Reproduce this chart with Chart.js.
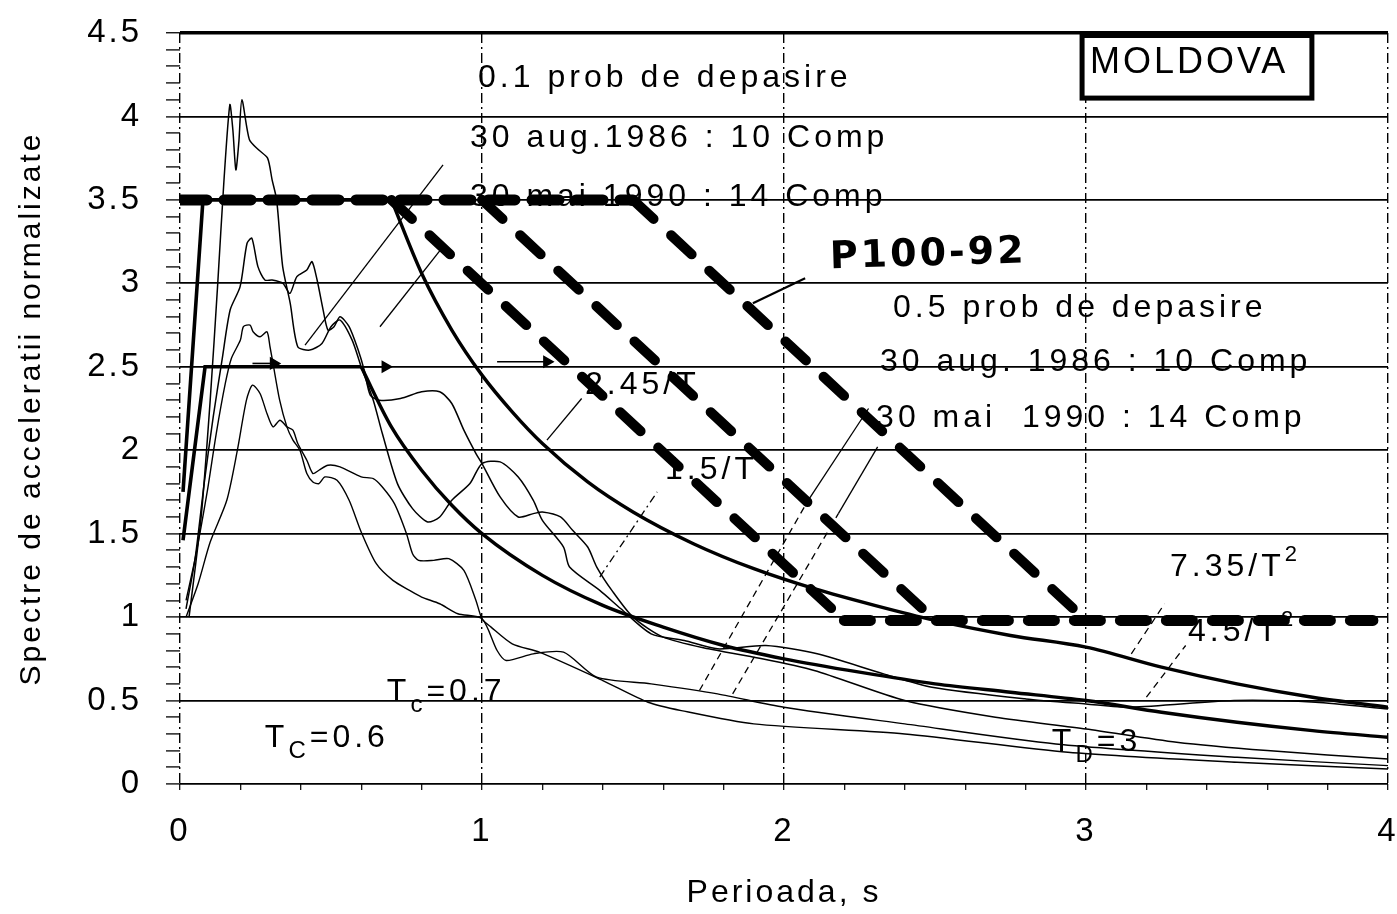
<!DOCTYPE html>
<html>
<head>
<meta charset="utf-8">
<title>Spectre de acceleratii normalizate - Moldova</title>
<script src="https://cdn.jsdelivr.net/npm/chart.js@4.4.1/dist/chart.umd.min.js"></script>
<style>
  html, body { margin: 0; padding: 0; background: #fff; }
  #chart { display: block; }
</style>
</head>
<body>
<canvas id="chart" width="1397" height="914"></canvas>
<script>
// P100-92 code spectra (thick dashed): plateau 3.5, linear drop, floor 1.0
const codeTopT = [0, 1.5];
const codeTopV = [3.5, 3.5];
const codeDrop1T = [0.7, 2.2];
const codeDrop1V = [3.5, 0.98];
const codeDrop2T = [1.0, 2.5];
const codeDrop2V = [3.5, 0.98];
const codeDrop3T = [1.5, 3.0];
const codeDrop3V = [3.5, 0.98];
const codeFloorT = [2.2, 3.95];
const codeFloorV = [0.98, 0.98];

// proposed spectrum Tc=0.7 (3.5, 2.45/T, 7.35/T^2)
const rise1T = [0.01, 0.076, 0.7];
const rise1V = [1.75, 3.5, 3.5];
const decay1T = [0.7, 0.8, 0.9, 1.0, 1.1, 1.2, 1.35, 1.5, 1.7, 1.9, 2.1, 2.3, 2.5, 2.75, 3.0, 3.25, 3.5, 3.75, 4.0];
const decay1V = [3.5, 3.06, 2.72, 2.45, 2.23, 2.04, 1.81, 1.63, 1.44, 1.29, 1.17, 1.07, 0.98, 0.89, 0.82, 0.70, 0.60, 0.52, 0.46];

// proposed spectrum Tc=0.6 (2.5, 1.5/T, 4.5/T^2)
const rise2T = [0.01, 0.083, 0.6];
const rise2V = [1.46, 2.5, 2.5];
const decay2T = [0.6, 0.7, 0.8, 0.9, 1.0, 1.2, 1.4, 1.6, 1.8, 2.0, 2.25, 2.5, 2.75, 3.0, 3.25, 3.5, 3.75, 4.0];
const decay2V = [2.5, 2.14, 1.88, 1.67, 1.5, 1.25, 1.07, 0.94, 0.83, 0.75, 0.67, 0.6, 0.55, 0.5, 0.43, 0.37, 0.32, 0.28];

// recorded spectra, 0.1 probability (30 aug 1986 / 30 mai 1990)
const rec1T = [0.03, 0.07, 0.10, 0.125, 0.145, 0.165, 0.175, 0.185, 0.195, 0.205, 0.23, 0.26, 0.29, 0.305, 0.32, 0.34, 0.365, 0.39, 0.43, 0.47, 0.50, 0.53, 0.57, 0.60, 0.64, 0.67, 0.72, 0.77, 0.82, 0.86, 0.90, 0.96, 1.00, 1.06, 1.12, 1.17, 1.20, 1.27, 1.29, 1.39, 1.46, 1.56, 1.67, 1.78, 1.94, 2.11, 2.33, 2.49, 2.80, 3.00, 3.15, 3.49, 3.76, 4.00];
const rec1V = [1.00, 1.60, 2.30, 3.00, 3.60, 4.07, 3.92, 3.68, 3.85, 4.10, 3.86, 3.80, 3.75, 3.62, 3.50, 3.10, 2.88, 2.62, 2.60, 2.64, 2.74, 2.78, 2.66, 2.50, 2.30, 2.10, 1.80, 1.65, 1.57, 1.60, 1.70, 1.80, 1.92, 1.93, 1.84, 1.70, 1.58, 1.42, 1.30, 1.16, 1.05, 0.90, 0.86, 0.81, 0.83, 0.78, 0.66, 0.58, 0.51, 0.48, 0.46, 0.50, 0.49, 0.45];
const rec2T = [0.02, 0.05, 0.08, 0.11, 0.14, 0.166, 0.199, 0.222, 0.238, 0.258, 0.281, 0.305, 0.341, 0.364, 0.387, 0.42, 0.437, 0.454, 0.474, 0.49, 0.51, 0.53, 0.56, 0.59, 0.61, 0.63, 0.66, 0.73, 0.80, 0.86, 0.90, 0.94, 0.98, 1.00, 1.06, 1.12, 1.17, 1.20, 1.26, 1.30, 1.35, 1.38, 1.43, 1.50, 1.60, 1.75, 1.90, 2.10, 2.40, 2.70, 3.00, 3.30, 3.60, 4.00];
const rec2V = [1.05, 1.35, 1.80, 2.20, 2.55, 2.84, 2.98, 3.24, 3.27, 3.10, 3.02, 3.02, 3.00, 2.94, 3.04, 3.08, 3.13, 3.02, 2.84, 2.72, 2.74, 2.80, 2.74, 2.60, 2.48, 2.33, 2.30, 2.31, 2.35, 2.35, 2.28, 2.12, 1.98, 1.92, 1.72, 1.60, 1.62, 1.63, 1.60, 1.52, 1.42, 1.30, 1.16, 1.00, 0.88, 0.81, 0.76, 0.68, 0.50, 0.40, 0.33, 0.25, 0.20, 0.15];

// recorded spectra, 0.5 probability
const rec3T = [0.02, 0.05, 0.09, 0.12, 0.15, 0.17, 0.20, 0.21, 0.232, 0.242, 0.265, 0.288, 0.298, 0.308, 0.33, 0.354, 0.374, 0.397, 0.42, 0.44, 0.46, 0.48, 0.52, 0.56, 0.60, 0.65, 0.705, 0.76, 0.80, 0.86, 0.92, 1.00, 1.05, 1.08, 1.17, 1.27, 1.38, 1.56, 1.78, 2.00, 2.40, 2.90, 3.50, 4.00];
const rec3V = [1.10, 1.35, 1.75, 2.10, 2.40, 2.55, 2.66, 2.74, 2.75, 2.71, 2.68, 2.71, 2.62, 2.52, 2.30, 2.14, 2.06, 2.00, 1.86, 1.81, 1.80, 1.84, 1.82, 1.70, 1.51, 1.32, 1.22, 1.16, 1.12, 1.08, 1.02, 0.99, 0.80, 0.74, 0.78, 0.79, 0.64, 0.60, 0.54, 0.46, 0.36, 0.24, 0.16, 0.11];
const rec4T = [0.02, 0.06, 0.10, 0.155, 0.19, 0.22, 0.24, 0.265, 0.288, 0.308, 0.331, 0.354, 0.374, 0.39, 0.42, 0.44, 0.46, 0.49, 0.53, 0.60, 0.64, 0.67, 0.71, 0.75, 0.77, 0.79, 0.84, 0.89, 0.94, 0.98, 1.00, 1.03, 1.10, 1.19, 1.40, 1.55, 1.66, 1.90, 2.40, 2.94, 3.50, 4.00];
const rec4V = [1.00, 1.20, 1.45, 1.70, 2.00, 2.30, 2.39, 2.34, 2.22, 2.14, 2.18, 2.14, 2.12, 2.04, 1.94, 1.86, 1.88, 1.91, 1.90, 1.84, 1.83, 1.78, 1.68, 1.50, 1.38, 1.34, 1.34, 1.35, 1.28, 1.10, 0.99, 0.94, 0.84, 0.79, 0.62, 0.49, 0.44, 0.36, 0.30, 0.19, 0.13, 0.09];

// leader lines from the labels
const leaders = [
  {t: [0.414, 0.871], v: [2.63, 3.71], dash: []},
  {t: [0.662, 0.871], v: [2.74, 3.22], dash: []},
  {t: [1.215, 1.33], v: [2.06, 2.31], dash: []},
  {t: [1.39, 1.58], v: [1.24, 1.75], dash: [8, 4, 2, 4]},
  {t: [2.08, 2.28], v: [1.70, 2.25], dash: []},
  {t: [1.72, 2.08], v: [0.56, 1.70], dash: [7, 5]},
  {t: [2.18, 2.31], v: [1.62, 2.02], dash: []},
  {t: [1.83, 2.18], v: [0.54, 1.62], dash: [7, 5]},
  {t: [3.15, 3.26], v: [0.78, 1.08], dash: [7, 5]},
  {t: [3.20, 3.33], v: [0.52, 0.83], dash: [7, 5]},
  {t: [1.897, 2.07], v: [2.88, 3.03], dash: [], width: 2.2}
];
// arrows along the 2.5 level
const arrows = [
  {t: [0.6, 0.68], v: [2.5, 2.5]},
  {t: [1.05, 1.215], v: [2.53, 2.53]},
  {t: [0.24, 0.31], v: [2.52, 2.52]}
];

const fam = '"Liberation Sans", Arial, Helvetica, sans-serif';
Chart.defaults.font.family = fam;
Chart.defaults.color = '#000';

function pts(t, v) {
  return t.map((x, i) => ({x: x, y: v[i]}));
}

function line(t, v, width, dash, more) {
  return Object.assign({
    data: pts(t, v),
    borderColor: '#000',
    borderWidth: width,
    borderDash: dash,
    pointRadius: 0,
    tension: 0,
    fill: false
  }, more || {});
}

const thickDash = {borderCapStyle: 'round', borderJoinStyle: 'round'};
const datasets = [
  line(codeTopT, codeTopV, 11, [27, 17], thickDash),
  line(codeDrop1T, codeDrop1V, 10, [28, 24], thickDash),
  line(codeDrop2T, codeDrop2V, 10, [28, 24], thickDash),
  line(codeDrop3T, codeDrop3V, 10, [28, 24], thickDash),
  line(codeFloorT, codeFloorV, 11, [26, 20], thickDash),
  line(rise1T, rise1V, 3.6, []),
  line(decay1T, decay1V, 3.4, [], {cubicInterpolationMode: 'monotone'}),
  line(rise2T, rise2V, 3.6, []),
  line(decay2T, decay2V, 3.4, [], {cubicInterpolationMode: 'monotone'}),
  line(rec1T, rec1V, 1.5, [], {tension: 0.25}),
  line(rec2T, rec2V, 1.5, [], {tension: 0.25}),
  line(rec3T, rec3V, 1.4, [], {tension: 0.25}),
  line(rec4T, rec4V, 1.4, [], {tension: 0.25})
];
leaders.forEach(l => datasets.push(line(l.t, l.v, l.width || 1.3, l.dash)));
arrows.forEach(a => datasets.push(line(a.t, a.v, 1.6, [], {
  pointRadius: [0, 6], pointStyle: 'triangle', pointRotation: 90,
  pointBackgroundColor: '#000', pointBorderColor: '#000'
})));

function onHalf(v) {
  return Math.abs(v * 2 - Math.round(v * 2)) < 1e-6;
}
function onWhole(v) {
  return Math.abs(v - Math.round(v)) < 1e-6;
}

// white page + wider letter spacing for all canvas text
const paper = {
  id: 'paper',
  beforeDraw(chart) {
    const ctx = chart.ctx;
    ctx.letterSpacing = '3px';
    ctx.save();
    ctx.fillStyle = '#fff';
    ctx.fillRect(0, 0, chart.width, chart.height);
    ctx.restore();
  }
};

// text notes on the plot, positioned in axis units
const noteList = [
  {t: 0.987, v: 4.228, parts: [['0.1 prob de depasire']]},
  {t: 0.960, v: 3.868, parts: [['30 aug.1986 : 10 Comp']]},
  {t: 0.960, v: 3.515, parts: [['30 mai 1990 : 14 Comp']]},
  {t: 2.361, v: 2.850, parts: [['0.5 prob de depasire']]},
  {t: 2.318, v: 2.527, parts: [['30 aug. 1986 : 10 Comp']]},
  {t: 2.305, v: 2.192, parts: [['30 mai  1990 : 14 Comp']]},
  {t: 1.341, v: 2.389, parts: [['2.45/T']]},
  {t: 1.606, v: 1.880, parts: [['1.5/T']]},
  {t: 3.278, v: 1.299, parts: [['7.35/T'], ['2', 'sup']]},
  {t: 3.338, v: 0.910, parts: [['4.5/T'], ['2', 'sup']]},
  {t: 0.685, v: 0.551, parts: [['T'], ['c', 'sub'], ['=0.7']]},
  {t: 0.281, v: 0.275, parts: [['T'], ['C', 'sub'], ['=0.6']]},
  {t: 2.887, v: 0.251, parts: [['T'], ['D', 'sub'], ['=3']]}
];

const notes = {
  id: 'notes',
  afterDatasetsDraw(chart) {
    const {ctx, scales: {x, y}} = chart;
    ctx.save();
    ctx.fillStyle = '#000';
    ctx.textBaseline = 'middle';
    ctx.textAlign = 'left';
    ctx.letterSpacing = '4px';
    noteList.forEach(n => {
      let px = x.getPixelForValue(n.t);
      const py = y.getPixelForValue(n.v);
      n.parts.forEach(p => {
        let dy = 0;
        if (p[1] === 'sub') { ctx.font = '24px ' + fam; dy = 13; }
        else if (p[1] === 'sup') { ctx.font = '22px ' + fam; dy = -12; }
        else { ctx.font = '32px ' + fam; }
        ctx.fillText(p[0], px, py + dy);
        px += ctx.measureText(p[0]).width;
      });
    });

    // region box in the top right corner
    const bx0 = x.getPixelForValue(2.987), bx1 = x.getPixelForValue(3.748);
    const by0 = y.getPixelForValue(4.485), by1 = y.getPixelForValue(4.11);
    ctx.fillStyle = '#fff';
    ctx.fillRect(bx0, by0, bx1 - bx0, by1 - by0);
    ctx.lineWidth = 5;
    ctx.strokeStyle = '#000';
    ctx.strokeRect(bx0, by0, bx1 - bx0, by1 - by0);
    ctx.fillStyle = '#000';
    ctx.letterSpacing = '3px';
    ctx.font = '36px ' + fam;
    ctx.fillText('MOLDOVA', x.getPixelForValue(3.013), y.getPixelForValue(4.32));

    // handwritten code name
    ctx.translate(x.getPixelForValue(2.152), y.getPixelForValue(3.15));
    ctx.rotate(-0.03);
    ctx.font = 'bold 38px "DejaVu Sans", sans-serif';
    ctx.fillText('P100-92', 0, 0);
    ctx.restore();
  }
};

new Chart(document.getElementById('chart'), {
  type: 'line',
  data: {datasets: datasets},
  plugins: [paper, notes],
  options: {
    responsive: false,
    animation: false,
    events: [],
    layout: {padding: {left: 0, right: 9, top: 33, bottom: 0}},
    plugins: {legend: {display: false}, tooltip: {enabled: false}},
    scales: {
      x: {
        type: 'linear',
        min: 0,
        max: 4,
        afterFit(s) {
          s.height = 130;
          s.paddingLeft = 0;
          s.paddingRight = 0;
        },
        ticks: {
          stepSize: 0.2,
          autoSkip: false,
          maxRotation: 0,
          padding: 22,
          font: {size: 33},
          callback: v => onWhole(v) ? String(Math.round(v)) : ''
        },
        grid: {
          color: c => onWhole(c.tick.value) ? '#000' : 'rgba(0,0,0,0)',
          lineWidth: 1.4,
          tickLength: 6,
          tickColor: '#000',
          tickWidth: 1.2
        },
        border: {display: false, dash: [10, 4, 2, 4]},
        title: {display: true, text: 'Perioada, s', font: {size: 32}, padding: {top: 0, bottom: 2}}
      },
      y: {
        min: 0,
        max: 4.5,
        afterFit(s) {
          s.width = 180;
          s.paddingTop = 0;
          s.paddingBottom = 0;
        },
        ticks: {
          stepSize: 0.1,
          autoSkip: false,
          maxTicksLimit: 100,
          padding: 24,
          font: {size: 33},
          callback: v => onHalf(v) ? String(Math.round(v * 10) / 10) : ''
        },
        grid: {
          color: c => onHalf(c.tick.value) ? '#000' : 'rgba(0,0,0,0)',
          lineWidth: c => c.tick.value > 4.49 ? 3.5 : 1.8,
          tickLength: 14,
          tickColor: '#000',
          tickWidth: 1.3
        },
        border: {display: false},
        title: {display: true, text: 'Spectre de acceleratii normalizate', font: {size: 30}, padding: {top: 14, bottom: 0}}
      }
    }
  }
});
</script>
</body>
</html>
